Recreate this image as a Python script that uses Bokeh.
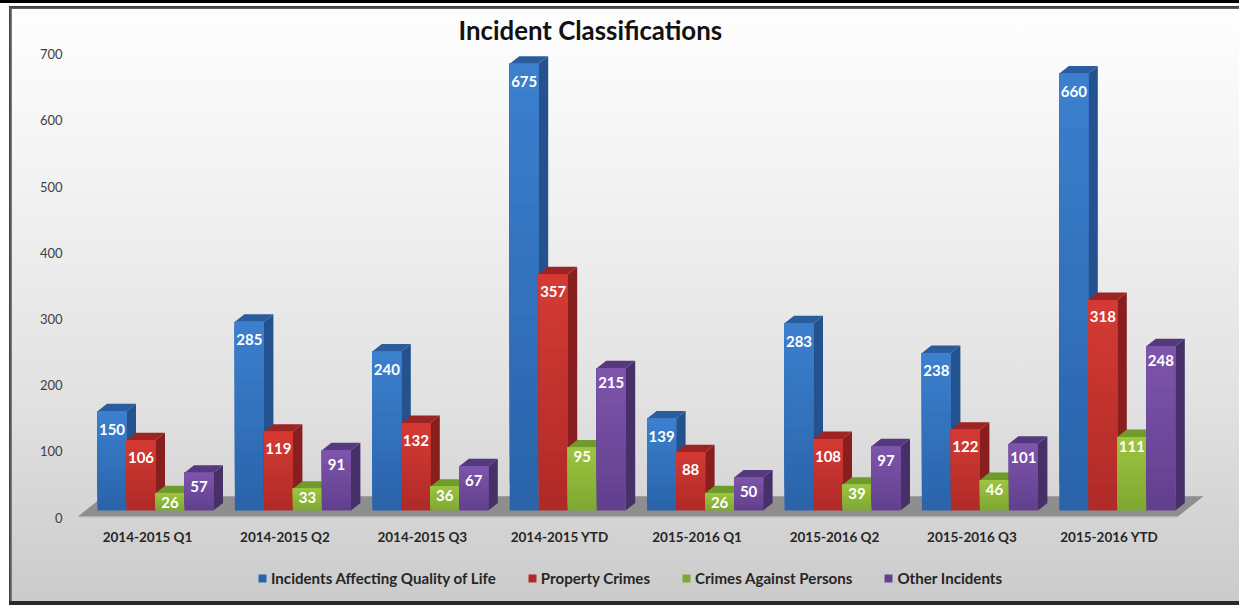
from bokeh.plotting import figure
from bokeh.models import Range1d, FixedTicker, Legend, LegendItem, ColumnDataSource, LinearAxis
from bokeh.core.properties import value
from bokeh.embed import file_html
from bokeh.resources import INLINE

categories = ["2014-2015 Q1", "2014-2015 Q2", "2014-2015 Q3", "2014-2015 YTD",
              "2015-2016 Q1", "2015-2016 Q2", "2015-2016 Q3", "2015-2016 YTD"]
quality_of_life = [150, 285, 240, 675, 139, 283, 238, 660]
property_crimes = [106, 119, 132, 357, 88, 108, 122, 318]
against_persons = [26, 33, 36, 95, 26, 39, 46, 111]
other_incidents = [57, 91, 67, 215, 50, 97, 101, 248]
y_ticks = [0, 100, 200, 300, 400, 500, 600, 700]

series = [
    ("Incidents Affecting Quality of Life", quality_of_life, (0x3b, 0x7f, 0xcd), (0x2a, 0x64, 0xab), "#24528e", "#2a5c9e", 18),
    ("Property Crimes", property_crimes, (0xd4, 0x3a, 0x33), (0xb0, 0x2a, 0x28), "#881f1e", "#9c2422", 17),
    ("Crimes Against Persons", against_persons, (0x9c, 0xc4, 0x40), (0x7f, 0xa8, 0x32), "#66902a", "#6f9a2c", 9),
    ("Other Incidents", other_incidents, (0x7d, 0x55, 0xab), (0x62, 0x40, 0x8e), "#472f68", "#54397e", 14),
]

W, H = 1239, 605
F_L, F_R, F_T, F_B = 70, 1215, 40, 597
PX_GROUP = 137.4
PX_UNIT = 0.662
BAR = 29 / PX_GROUP
DX = 9.5 / PX_GROUP
DY = 7.5 / PX_UNIT
LIFT = 7 / PX_UNIT
X0 = 97
Y0 = 517

x_range = Range1d((F_L - X0) / PX_GROUP, (F_R - X0) / PX_GROUP)
y_range = Range1d((Y0 - F_B) / PX_UNIT, (Y0 - F_T) / PX_UNIT)

p = figure(width=W, height=H, x_range=x_range, y_range=y_range,
           frame_width=F_R - F_L, frame_height=F_B - F_T,
           output_backend="svg", toolbar_location=None,
           min_border_left=F_L, min_border_right=W - F_R,
           min_border_top=F_T, min_border_bottom=H - F_B,
           x_axis_type=None, y_axis_type=None,
           background_fill_color=None, border_fill_color=None, outline_line_color=None)
p.grid.visible = False
p.styles = {
    "position": "absolute", "left": "0", "top": "0",
    "background-color": "#ffffff",
    "background-image": ", ".join([
        "linear-gradient(#000,#000)", "linear-gradient(#2a2a2a,#2a2a2a)",
        "linear-gradient(#333,#666)", "linear-gradient(90deg,#333,#888)",
        "linear-gradient(#fefefe 0%,#f2f2f2 30%,#e2e2e2 65%,#cbcbcb 100%)",
    ]),
    "background-size": "1239px 3px, 1230px 4px, 1230px 3px, 3px 595px, 1229px 593px",
    "background-position": "0 0, 9px 601px, 9px 6px, 9px 7px, 10px 8px",
    "background-repeat": "no-repeat",
}

# floor
fl_top = LIFT + DY * 1.9
fl_bot = LIFT - 5.5 / PX_UNIT
fl_low = LIFT - 7 / PX_UNIT
fl_l = (78 - X0) / PX_GROUP
fl_r = (1178 - X0) / PX_GROUP
fl_d = 25 / PX_GROUP
p.patch([fl_l, fl_r, fl_r, fl_l], [fl_bot, fl_bot, fl_low, fl_low], fill_color="#b4b4b4", line_color=None)
p.patch([fl_l, fl_l + fl_d, fl_r + fl_d, fl_r], [fl_bot, fl_top, fl_top, fl_bot], fill_color="#8e8e8e", line_color=None)

BANDS = 16
legend_items = []
for g, cat in enumerate(categories):
    for s, (name, vals, c_top, c_bot, c_side, c_cap, lab_off) in enumerate(series):
        v = vals[g]
        l = g + s * BAR
        r = l + BAR
        b = LIFT
        t = LIFT + v
        p.patch([r, r + DX, r + DX, r], [b, b + DY, t + DY, t], fill_color=c_side, line_color=None)
        p.patch([l, l + DX, r + DX, r], [t, t + DY, t + DY, t], fill_color=c_cap, line_color=None)
        for k in range(BANDS):
            f = k / (BANDS - 1)
            col = tuple(int(round(c_bot[i] + (c_top[i] - c_bot[i]) * f)) for i in range(3))
            q = p.quad(left=l, right=r, bottom=b + v * k / BANDS, top=t,
                       fill_color="#%02x%02x%02x" % col, line_color=None)
            if k == 0 and g == 0:
                legend_items.append(LegendItem(label=name, renderers=[q]))

# data labels
for s, (name, vals, *_rest) in enumerate(series):
    lab_off = series[s][-1]
    src = ColumnDataSource(dict(
        x=[g + (s + 0.5) * BAR for g in range(len(categories))],
        y=[LIFT + v for v in vals],
        t=[str(v) for v in vals]))
    p.text("x", "y", text="t", source=src, text_color="#ffffff", text_font=value("Lato"),
           text_font_style="bold", text_font_size="15px", text_align="center",
           text_baseline="middle", y_offset=lab_off)

# axes
yaxis = LinearAxis(ticker=FixedTicker(ticks=y_ticks))
yaxis.axis_line_color = None
yaxis.major_tick_line_color = None
yaxis.minor_tick_line_color = None
yaxis.major_label_standoff = 2
yaxis.major_label_text_font = "Lato"
yaxis.major_label_text_font_size = "13px"
yaxis.major_label_text_color = "#404040"
p.add_layout(yaxis, "left")

tick_pos = [g + 50 / PX_GROUP for g in range(len(categories))]
xaxis = LinearAxis(ticker=FixedTicker(ticks=tick_pos),
                   major_label_overrides={t: c for t, c in zip(tick_pos, categories)})
xaxis.axis_line_color = None
xaxis.major_tick_line_color = None
xaxis.minor_tick_line_color = None
xaxis.major_label_standoff = -75
xaxis.major_label_text_font = "Lato"
xaxis.major_label_text_font_style = "bold"
xaxis.major_label_text_font_size = "13.5px"
xaxis.major_label_text_color = "#262626"
p.add_layout(xaxis, "below")

# title
p.title.text = "Incident Classifications"
p.title.text_font = "Lato"
p.title.text_font_style = "bold"
p.title.text_font_size = "25.8px"
p.title.text_color = "#111111"
p.title.align = "left"
p.title.offset = 458 - F_L
p.title.standoff = -8

# legend
legend = Legend(items=legend_items, orientation="horizontal", location=(187, 10),
                glyph_width=10, glyph_height=10, label_standoff=4, spacing=31, padding=0, margin=0,
                background_fill_alpha=0, border_line_color=None,
                label_text_font="Lato", label_text_font_style="bold",
                label_text_font_size="15.1px", label_text_color="#262626")
p.add_layout(legend)

open("out.html", "w").write(file_html(p, INLINE))
